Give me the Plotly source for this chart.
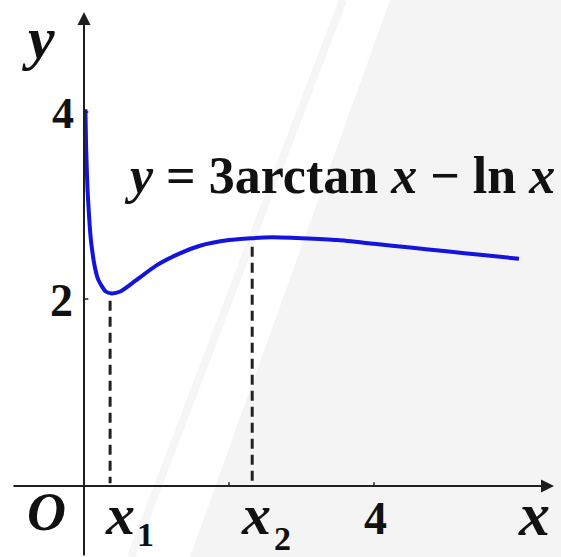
import plotly.graph_objects as go

# Sampled points of y = 3arctan x - ln x
curve_x = [0.019, 0.03, 0.05, 0.08, 0.1, 0.15, 0.2, 0.3, 0.38, 0.5, 0.7, 1.0,
           1.3, 1.6, 2.0, 2.3, 2.6, 3.0, 3.5, 4.0, 4.5, 5.0, 5.5, 6.0]
curve_y = [4.03, 3.60, 3.15, 2.77, 2.60, 2.34, 2.20, 2.08, 2.06, 2.08, 2.19, 2.36,
           2.48, 2.57, 2.63, 2.65, 2.66, 2.65, 2.63, 2.59, 2.55, 2.51, 2.47, 2.43]

# Marked abscissas (x1, x2) and the curve height where the guide lines stop
marks_x = [0.36, 2.32]
marks_y = [2.06, 2.64]
marks_label = ["x", "x"]
marks_sub = ["1", "2"]

x_ticks = [2, 4]
y_ticks = [2, 4]

W, H = 561, 557
X0_PX, Y0_PX = 84, 486          # origin in pixels
SX, SY = 72.5, 93.5             # pixels per unit

xr = [-X0_PX / SX, (W - X0_PX) / SX]
yr = [(Y0_PX - H) / SY, Y0_PX / SY]

SERIF = "Liberation Serif, Times New Roman, serif"
INK = "#1e1e1e"


def px(xp):
    return (xp - X0_PX) / SX


def py(yp):
    return (Y0_PX - yp) / SY


fig = go.Figure()

fig.add_trace(go.Scatter(
    x=curve_x, y=curve_y, mode="lines",
    line=dict(color="#1414dc", width=4, shape="spline", smoothing=0.6),
    hoverinfo="skip", showlegend=False,
))

shapes = []
# light grey panel on the right with a faint diagonal streak
shapes.append(dict(type="path", xref="paper", yref="paper",
                   path="M {:.4f},1 L 1,1 L 1,0 L {:.4f},0 Z".format(390 / W, 190 / W),
                   fillcolor="#f4f4f4", line=dict(width=0), layer="below"))
shapes.append(dict(type="line", xref="paper", yref="paper",
                   x0=343 / W, y0=1, x1=131 / W, y1=0,
                   line=dict(color="#f6f6f6", width=8), layer="below"))

# dashed guides from the curve down to the x-axis
for mx, my in zip(marks_x, marks_y):
    shapes.append(dict(type="line", x0=mx, y0=my - 0.08, x1=mx, y1=0.03,
                       line=dict(color="#222222", width=3, dash="10px,6px")))

# small tick marks
for t in x_ticks:
    shapes.append(dict(type="line", x0=t, y0=0, x1=t, y1=0.04,
                       line=dict(color=INK, width=1.5)))
for t in y_ticks:
    shapes.append(dict(type="line", x0=0, y0=t, x1=0.06, y1=t,
                       line=dict(color=INK, width=1.5)))

annotations = []
# axes with arrowheads
annotations.append(dict(x=px(554), y=0, ax=px(12), ay=0, xref="x", yref="y",
                        axref="x", ayref="y", showarrow=True, arrowhead=2,
                        arrowsize=1.3, arrowwidth=2, arrowcolor=INK, text=""))
annotations.append(dict(x=0, y=py(12), ax=0, ay=yr[0], xref="x", yref="y",
                        axref="x", ayref="y", showarrow=True, arrowhead=2,
                        arrowsize=1.3, arrowwidth=2, arrowcolor=INK, text=""))


def label(text, xp, yp, size, italic=False):
    t = "<b>" + (f"<i>{text}</i>" if italic else text) + "</b>"
    annotations.append(dict(x=xp / W, y=1 - yp / H, xref="paper", yref="paper",
                            text=t, showarrow=False, xanchor="center",
                            yanchor="middle",
                            font=dict(family=SERIF, size=size, color="#111")))


label("y", 38, 38, 60, italic=True)
label("4", 63, 113, 44)
label("2", 61, 300, 46)
label("O", 46, 512, 54, italic=True)
label("x", 534, 514, 62, italic=True)
label("4", 375, 518, 46)

sub_px = [(120, 514, 145, 534), (256, 514, 282, 538)]
for (lx, ly, sx, sy), name, sub in zip(sub_px, marks_label, marks_sub):
    label(name, lx, ly, 58, italic=True)
    label(sub, sx, sy, 34)

# function label
annotations.append(dict(
    x=557 / W, y=1 - 176 / H, xref="paper", yref="paper", showarrow=False,
    xanchor="right", yanchor="middle",
    text="<b><i>y</i> = 3arctan <i>x</i> − ln <i>x</i></b>",
    font=dict(family=SERIF, size=52, color="#111")))

fig.update_layout(
    width=W, height=H, margin=dict(l=0, r=0, t=0, b=0),
    paper_bgcolor="white", plot_bgcolor="rgba(0,0,0,0)",
    xaxis=dict(range=xr, visible=False, fixedrange=True),
    yaxis=dict(range=yr, visible=False, fixedrange=True),
    shapes=shapes, annotations=annotations,
)

fig.write_html("out.html")
